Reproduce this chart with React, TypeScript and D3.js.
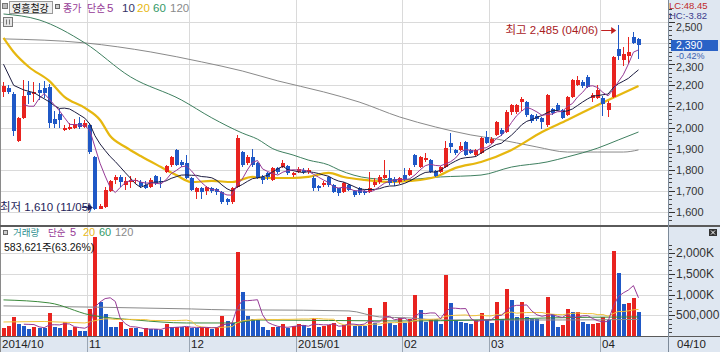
import * as d3 from 'd3';

// daily candles, 2014-10-08 .. 2015-04-10
const OPEN = [2170, 2185, 2160, 1935, 2045, 2170, 2160, 2180, 2185, 2190, 2040, 2065, 1990, 1995, 2000, 2020, 2005,
  2012, 1860, 1615, 1625, 1700, 1750, 1765, 1730, 1740, 1745, 1740, 1730, 1720, 1770, 1745, 1790, 1825, 1895, 1838, 1830,
  1760, 1695, 1715, 1700, 1712, 1710, 1695, 1660, 1645, 1720, 1885, 1830, 1860, 1830, 1765, 1785, 1750, 1810, 1815, 1820,
  1775, 1790, 1800, 1790, 1760, 1725, 1728, 1765, 1728, 1712, 1695, 1728, 1700, 1712, 1700, 1695, 1728, 1742, 1760, 1760,
  1755, 1742, 1775, 1775, 1870, 1815, 1848, 1846, 1795, 1790, 1815, 1925, 1895, 1895, 1930, 1895, 1870, 1880, 1955, 1925,
  1965, 1990, 1980, 2075, 2075, 2120, 2120, 2060, 2055, 2045, 2010, 2090, 2105, 2085, 2060, 2145, 2200, 2215, 2240, 2140,
  2140, 2140, 2085, 2145, 2370, 2320, 2340, 2430, 2420];
const HIGH = [2215, 2200, 2170, 2050, 2225, 2220, 2215, 2210, 2220, 2205, 2080, 2090, 2010, 2020, 2040, 2050, 2035,
  2020, 1865, 1640, 1720, 1750, 1775, 1775, 1765, 1770, 1760, 1750, 1745, 1760, 1775, 1765, 1825, 1865, 1900, 1845, 1870,
  1765, 1720, 1720, 1725, 1720, 1715, 1700, 1665, 1720, 1965, 1890, 1870, 1900, 1835, 1775, 1790, 1815, 1815, 1845, 1825,
  1790, 1815, 1810, 1810, 1770, 1730, 1745, 1770, 1735, 1715, 1740, 1735, 1705, 1718, 1705, 1790, 1760, 1775, 1845, 1800,
  1765, 1765, 1810, 1810, 1875, 1865, 1880, 1850, 1800, 1820, 1935, 1975, 1900, 1930, 1935, 1900, 1900, 1955, 1985, 1955,
  2030, 2000, 2085, 2110, 2110, 2145, 2125, 2065, 2065, 2050, 2160, 2095, 2115, 2090, 2150, 2230, 2245, 2225, 2250, 2165,
  2200, 2150, 2125, 2340, 2485, 2380, 2430, 2455, 2425];
const LOW = [2145, 2160, 1960, 1930, 2040, 2110, 2120, 2130, 2140, 2000, 2000, 2000, 1985, 1990, 1995, 1995, 2000,
  1875, 1610, 1615, 1620, 1695, 1735, 1720, 1705, 1715, 1735, 1715, 1710, 1715, 1730, 1715, 1785, 1815, 1820, 1815, 1755,
  1700, 1660, 1660, 1680, 1690, 1680, 1640, 1635, 1640, 1715, 1815, 1825, 1815, 1755, 1735, 1750, 1745, 1780, 1810, 1775,
  1765, 1785, 1780, 1780, 1700, 1700, 1720, 1720, 1690, 1675, 1690, 1700, 1670, 1680, 1680, 1690, 1720, 1735, 1755, 1730,
  1725, 1735, 1745, 1770, 1815, 1810, 1835, 1785, 1765, 1785, 1810, 1880, 1870, 1890, 1865, 1875, 1865, 1875, 1920, 1920,
  1960, 1960, 1975, 2060, 2065, 2080, 2050, 2020, 2030, 1995, 2005, 2060, 2080, 2040, 2055, 2140, 2195, 2185, 2185, 2120,
  2135, 2055, 2050, 2140, 2320, 2290, 2300, 2395, 2325];
const CLOSE = [2195, 2170, 1985, 2045, 2150, 2155, 2170, 2165, 2165, 2020, 2015, 2035, 2000, 2005, 2015, 2005, 2020,
  1885, 1615, 1630, 1705, 1745, 1765, 1740, 1745, 1750, 1752, 1722, 1715, 1752, 1737, 1740, 1820, 1860, 1825, 1825, 1760,
  1705, 1712, 1695, 1718, 1700, 1695, 1645, 1645, 1715, 1950, 1825, 1860, 1825, 1760, 1750, 1765, 1810, 1790, 1830, 1785,
  1785, 1805, 1790, 1800, 1715, 1715, 1738, 1730, 1695, 1690, 1737, 1705, 1680, 1690, 1688, 1712, 1742, 1765, 1775, 1737,
  1740, 1760, 1752, 1800, 1825, 1860, 1858, 1790, 1770, 1815, 1905, 1910, 1880, 1915, 1870, 1880, 1895, 1950, 1925, 1945,
  2025, 1970, 2075, 2105, 2105, 2135, 2060, 2030, 2040, 2025, 2155, 2070, 2085, 2045, 2145, 2225, 2225, 2195, 2190, 2155,
  2180, 2110, 2115, 2335, 2340, 2350, 2360, 2400, 2390];
// volume, thousand shares
const VOLUME = [190, 240, 460, 290, 240, 170, 215, 190, 185, 555, 215, 190, 340, 145, 215, 120, 115,
  650, 2390, 820, 530, 215, 210, 340, 170, 190, 185, 100, 190, 180, 175, 150, 290, 215, 220, 210, 220,
  195, 190, 215, 220, 170, 215, 485, 360, 320, 2030, 1060, 485, 410, 385, 215, 145, 215, 207, 290, 195,
  240, 290, 265, 190, 435, 215, 240, 265, 315, 145, 265, 460, 240, 235, 230, 675, 315, 240, 820, 315,
  265, 435, 315, 410, 990, 630, 340, 410, 400, 290, 1470, 800, 385, 340, 310, 290, 385, 555, 385, 315,
  820, 410, 1135, 870, 460, 820, 460, 410, 400, 290, 940, 530, 215, 265, 650, 580, 590, 340, 290, 300,
  315, 460, 385, 2055, 1520, 775, 800, 922.6, 583.621];

// month boundaries (candle index) and their axis labels
const MONTH_START = [0, 17, 37, 58, 79, 96, 118];
const MONTH_LABEL = ['2014/10', '11', '12', '2015/01', '02', '03', '04'];

// longer averages need history before the first candle, so they are read as [index, value]
const MA10_HEAD: [number, number][] = [[0, 2300], [2, 2200], [4, 2178], [6, 2165]];
const MA20: [number, number][] = [[0, 2425], [2, 2358], [5, 2287], [9, 2221], [12, 2145], [16, 2093], [19, 2036],
  [21, 1960], [24, 1908], [27, 1865], [31, 1813], [34, 1775], [37, 1742], [41, 1747], [45, 1742], [49, 1766],
  [52, 1761], [57, 1761], [60, 1766], [64, 1785], [67, 1766], [71, 1752], [76, 1742], [80, 1747], [85, 1766],
  [89, 1809], [94, 1837], [100, 1894], [106, 1979], [111, 2036], [117, 2107], [125, 2197]];
const MA60: [number, number][] = [[0, 2538], [7, 2510], [16, 2401], [25, 2240], [35, 2131], [41, 2046], [47, 1974],
  [50, 1945], [53, 1900], [57, 1870], [60, 1846], [64, 1823], [66, 1800], [72, 1760], [78, 1752], [86, 1766],
  [94, 1775], [100, 1813], [107, 1837], [111, 1861], [117, 1903], [121, 1941], [125, 1979]];
const MA120: [number, number][] = [[0, 2420], [16, 2401], [29, 2358], [39, 2311], [47, 2268], [54, 2221], [63, 2169],
  [70, 2121], [78, 2050], [85, 2003], [92, 1965], [97, 1946], [105, 1908], [111, 1884], [117, 1884], [122, 1884],
  [125, 1894]];
const VOL_MA20_HEAD: [number, number][] = [[0, 338], [8, 350], [16, 314]];
const VOL_MA60: [number, number][] = [[0, 870], [9, 797], [17, 507], [26, 386], [36, 314], [45, 314], [50, 386],
  [78, 362], [94, 386], [107, 435], [125, 460]];
const VOL_MA120: [number, number][] = [[0, 725], [37, 652], [45, 628], [50, 628], [68, 604], [74, 460], [80, 435],
  [86, 386], [94, 386], [110, 386], [125, 400]];

const PRICE_TICKS = [1600, 1700, 1800, 1900, 2000, 2100, 2200, 2300, 2400, 2500];
const VOL_TICKS = [500, 1000, 1500, 2000];
const VOL_TICK_LABELS = ['500,000', '1,000K', '1,500K', '2,000K'];

const UP = '#e8231f';
const DOWN = '#1f58c6';
const C_MA5 = '#963a96';
const C_MA10 = '#1c1c40';
const C_MA20 = '#e6b70f';
const C_MA60 = '#3f8060';
const C_MA120 = '#8a8a8a';
const PANEL_BG = '#dfe7f1';
const GRID = '#dadada';

const F_NUM = "'Liberation Sans', 'Noto Sans CJK KR', sans-serif";
const F_NARROW = "'Liberation Sans Narrow', 'Liberation Sans', 'Noto Sans CJK KR', sans-serif";
const F_KR = "'Noto Sans CJK KR', sans-serif";

const W = 720;
const H = 352;
const PLOT_R = 668;

function sma(values: number[], n: number): [number, number][] {
  const out: [number, number][] = [];
  for (let i = n - 1; i < values.length; i++) {
    out.push([i, d3.mean(values.slice(i - n + 1, i + 1)) as number]);
  }
  return out;
}

export default function App() {
  const n = CLOSE.length;
  const x = d3.scaleBand<number>()
    .domain(d3.range(n + 6))
    .range([1.5, 1.5 + (n + 6) * 5.08])
    .paddingInner(0.2)
    .paddingOuter(0.1);
  const left = (i: number) => Math.round(x(i) as number);
  const cx = (i: number) => (x(0) as number) + 1.5 + i * x.step();

  const yP = d3.scaleLinear().domain([1600, 2500]).range([212, 22]);
  const yV = d3.scaleLinear().domain([0, 2000]).range([336, 253]);

  const priceLine = d3.line<[number, number]>().x((d) => cx(d[0])).y((d) => yP(d[1]));
  const smoothPrice = d3.line<[number, number]>().x((d) => cx(d[0])).y((d) => yP(d[1])).curve(d3.curveMonotoneX);
  const volLine = d3.line<[number, number]>().x((d) => cx(d[0])).y((d) => yV(d[1]));
  const smoothVol = d3.line<[number, number]>().x((d) => cx(d[0])).y((d) => yV(d[1])).curve(d3.curveMonotoneX);

  const ma5 = sma(CLOSE, 5);
  const ma10 = [...MA10_HEAD, ...sma(CLOSE, 10)];
  const vma5 = sma(VOLUME, 5);
  const vma20 = [...VOL_MA20_HEAD, ...sma(VOLUME, 20)];

  const hiIdx = d3.maxIndex(HIGH);
  const loIdx = d3.minIndex(LOW);
  const last = n - 1;
  const chg = ((CLOSE[last] - CLOSE[last - 1]) / CLOSE[last - 1]) * 100;
  const lc = ((CLOSE[last] - LOW[loIdx]) / LOW[loIdx]) * 100;
  const hc = ((CLOSE[last] - HIGH[hiIdx]) / HIGH[hiIdx]) * 100;
  const fmt = d3.format(',');
  const lastVol = Math.round(VOLUME[last] * 1000);
  const volPct = (VOLUME[last] / VOLUME[last - 1]) * 100;
  const yLast = yP(CLOSE[last]);

  const minorP = d3.range(1520, 2580, 20).filter((v) => yP(v) > 1 && yP(v) < 224);
  const minorV = d3.range(100, 2300, 100).filter((v) => yV(v) > 229);
  // the current-price box hides the tick label it sits on
  const shownTicks = PRICE_TICKS.filter((t) => Math.abs(yP(t) - yLast) > 8);
  // labels nudged down where the LC/HC lines and the change figure crowd them
  const labelShift = (t: number) => (t === 2500 ? 5 : t === 2300 ? 3 : 0);

  const hiX = cx(hiIdx) - 3;
  const hiY = 30;
  const loX = cx(loIdx) - 3;
  const loY = yP(LOW[loIdx]) - 3;

  return (
    <svg width={W} height={H} style={{ position: 'fixed', left: 0, top: 0, background: '#fff' }}>
      <defs>
        <clipPath id="pclip"><rect x={0} y={0} width={PLOT_R} height={225} /></clipPath>
        <clipPath id="vclip"><rect x={0} y={227} width={PLOT_R} height={109} /></clipPath>
      </defs>

      {/* right axis panel and bottom band */}
      <rect x={PLOT_R} y={0} width={W - PLOT_R} height={H} fill={PANEL_BG} />
      <rect x={0} y={337} width={W} height={15} fill={PANEL_BG} />

      {/* grids */}
      {PRICE_TICKS.map((t) => (
        <line key={'pg' + t} x1={0} x2={PLOT_R} y1={Math.round(yP(t)) + 0.5} y2={Math.round(yP(t)) + 0.5} stroke={GRID} />
      ))}
      {VOL_TICKS.map((t) => (
        <line key={'vg' + t} x1={0} x2={PLOT_R} y1={Math.round(yV(t)) + 0.5} y2={Math.round(yV(t)) + 0.5} stroke={GRID} />
      ))}
      {MONTH_START.slice(1).map((i) => (
        <g key={'mg' + i}>
          <line x1={left(i) - 0.5} x2={left(i) - 0.5} y1={0} y2={336} stroke={GRID} />
          <line x1={left(i) - 0.5} x2={left(i) - 0.5} y1={337} y2={352} stroke="#9aa6b4" />
        </g>
      ))}

      {/* price panel */}
      <g clipPath="url(#pclip)">
        <path d={smoothPrice(MA120) as string} fill="none" stroke={C_MA120} strokeWidth={1} />
        <path d={smoothPrice(MA60) as string} fill="none" stroke={C_MA60} strokeWidth={1} />
        <path d={smoothPrice(MA20) as string} fill="none" stroke={C_MA20} strokeWidth={2.2} />
        {CLOSE.map((c, i) => {
          const o = OPEN[i];
          const col = c >= o ? UP : DOWN;
          const lx = left(i);
          const top = Math.round(yP(Math.max(o, c)));
          const h = Math.max(1, Math.round(yP(Math.min(o, c))) - top);
          return (
            <g key={'c' + i}>
              <line x1={lx + 1.5} x2={lx + 1.5} y1={Math.round(yP(HIGH[i]))} y2={Math.round(yP(LOW[i]))} stroke={col} />
              <rect x={lx} y={top} width={4} height={h} fill={col} />
            </g>
          );
        })}
        <path d={priceLine(ma10) as string} fill="none" stroke={C_MA10} strokeWidth={1} />
        <path d={priceLine(ma5) as string} fill="none" stroke={C_MA5} strokeWidth={1} />
      </g>

      {/* volume panel */}
      <g clipPath="url(#vclip)">
        {VOLUME.map((v, i) => {
          const col = i === 0 || v >= VOLUME[i - 1] ? UP : DOWN;
          const top = Math.round(yV(v));
          return <rect key={'v' + i} x={left(i)} y={top} width={4} height={336 - top} fill={col} />;
        })}
        <path d={smoothVol(VOL_MA120) as string} fill="none" stroke={C_MA120} strokeWidth={1} />
        <path d={smoothVol(VOL_MA60) as string} fill="none" stroke="#3c8a3c" strokeWidth={1} />
        <path d={volLine(vma20) as string} fill="none" stroke="#f0c23a" strokeWidth={1} />
        <path d={volLine(vma5) as string} fill="none" stroke={C_MA5} strokeWidth={1} />
      </g>

      {/* frame lines */}
      <line x1={0.5} x2={0.5} y1={0} y2={352} stroke="#8a8a8a" />
      <line x1={0} x2={W} y1={226} y2={226} stroke="#5a5a5a" strokeWidth={2} />
      <line x1={0} x2={W} y1={336.5} y2={336.5} stroke="#5a5a5a" />
      <line x1={PLOT_R + 0.5} x2={PLOT_R + 0.5} y1={0} y2={352} stroke="#7d8a99" />

      {/* price axis */}
      {minorP.map((t) => (
        <line key={'pm' + t} x1={669} x2={672} y1={Math.round(yP(t)) + 0.5} y2={Math.round(yP(t)) + 0.5} stroke="#444" />
      ))}
      {PRICE_TICKS.map((t) => (
        <line key={'pt' + t} x1={669} x2={675} y1={Math.round(yP(t)) + 0.5} y2={Math.round(yP(t)) + 0.5} stroke="#333" />
      ))}
      {shownTicks.map((t) => (
        <text key={'pl' + t} x={676} y={yP(t) + labelShift(t)} dominantBaseline="central" fontFamily={F_NUM}
          fontSize={t === 2500 ? 10.5 : 11} fill="#333">{fmt(t)}</text>
      ))}
      {/* volume axis */}
      {minorV.map((t) => (
        <line key={'vm' + t} x1={669} x2={672} y1={Math.round(yV(t)) + 0.5} y2={Math.round(yV(t)) + 0.5} stroke="#444" />
      ))}
      {VOL_TICKS.map((t, k) => (
        <g key={'vt' + t}>
          <line x1={669} x2={675} y1={Math.round(yV(t)) + 0.5} y2={Math.round(yV(t)) + 0.5} stroke="#333" />
          <text x={676} y={yV(t)} dominantBaseline="central" fontFamily={F_NARROW} fontSize={12} fill="#333">{VOL_TICK_LABELS[k]}</text>
        </g>
      ))}

      {/* LC / HC and current price */}
      <text x={669} y={5} dominantBaseline="central" fontFamily={F_NARROW} fontSize={9.5} fill="#c02a2a">{'LC:' + lc.toFixed(2)}</text>
      <text x={669} y={15.5} dominantBaseline="central" fontFamily={F_NARROW} fontSize={9.5} fill="#3a3a8c">{'HC:' + hc.toFixed(2)}</text>
      <rect x={671} y={Math.round(yLast) - 5} width={47} height={11} fill="#2a62c6" />
      <text x={676} y={yLast} dominantBaseline="central" fontFamily={F_NUM} fontSize={10.5} fill="#fff">{fmt(CLOSE[last])}</text>
      <text x={676} y={yLast + 10.5} dominantBaseline="central" fontFamily={F_NUM} fontSize={9} fill="#3b5fb0">{chg.toFixed(2) + '%'}</text>
      <rect x={709} y={229} width={8} height={7} fill="#333" />
      <path d="M711,230.5 L715,234.5 M715,230.5 L711,234.5" stroke="#fff" strokeWidth={1} />

      {/* month labels */}
      {MONTH_START.map((i, k) => (
        <text key={'ml' + i} x={k === 0 ? 2 : left(i) + 1} y={348} fontFamily={F_NARROW} fontSize={11.5} fill="#222">{MONTH_LABEL[k]}</text>
      ))}
      <text x={677} y={348} fontFamily={F_NARROW} fontSize={11.5} fill="#222">04/10</text>

      {/* price header */}
      <rect x={2.5} y={3.5} width={5} height={5} fill="#bbb" stroke="#777" />
      <rect x={9.5} y={1.5} width={43} height={12} fill="#f0f0f0" stroke="#9a9a9a" />
      <text x={12} y={11.5} fontFamily={F_KR} fontSize={10} fill="#111">영흥철강</text>
      <rect x={55.5} y={4.5} width={4} height={4} fill="#ccc" stroke="#666" />
      <text x={63} y={11.5} fontFamily={F_KR} fontSize={10} fill={C_MA5}>종가</text>
      <text x={87} y={11.5} fontFamily={F_KR} fontSize={10} fill={C_MA5}>단순</text>
      <text x={107} y={11.5} fontFamily={F_NARROW} fontSize={11.5} fill={C_MA5}>5</text>
      <text x={122} y={11.5} fontFamily={F_NARROW} fontSize={11.5} fill="#333366">10</text>
      <text x={137} y={11.5} fontFamily={F_NARROW} fontSize={11.5} fill={C_MA20}>20</text>
      <text x={153} y={11.5} fontFamily={F_NARROW} fontSize={11.5} fill="#339966">60</text>
      <text x={170} y={11.5} fontFamily={F_NARROW} fontSize={11.5} fill={C_MA120}>120</text>
      <rect x={3.5} y={17.5} width={9} height={9} fill="#e4e4e4" stroke="#777" />
      <path d="M6.5,19.5 V24.5 M9.5,19.5 V24.5" stroke="#777" />

      {/* volume header */}
      <rect x={3.5} y={230.5} width={4} height={4} fill="#ccc" stroke="#666" />
      <text x={13} y={236} fontFamily={F_KR} fontSize={9.5} fill="#2e9090">거래량</text>
      <text x={48} y={236} fontFamily={F_KR} fontSize={9.5} fill={C_MA5}>단순</text>
      <text x={70} y={236} fontFamily={F_NARROW} fontSize={11} fill={C_MA5}>5</text>
      <text x={83} y={236} fontFamily={F_NARROW} fontSize={11} fill="#e8b820">20</text>
      <text x={99} y={236} fontFamily={F_NARROW} fontSize={11} fill="#339966">60</text>
      <text x={115} y={236} fontFamily={F_NARROW} fontSize={11} fill={C_MA120}>120</text>
      <text x={4} y={250.5} fontFamily={F_NARROW} fontSize={10.5} fill="#111">
        {fmt(lastVol) + '주(' + volPct.toFixed(2) + '%)'}
      </text>

      {/* high / low annotations */}
      <text x={hiX - 17} y={hiY} textAnchor="end" dominantBaseline="central" fontFamily={F_NARROW} fontSize={11.5} fill="#a8201e">
        {'최고 ' + fmt(HIGH[hiIdx]) + ' (04/06)'}
      </text>
      <line x1={hiX - 14} x2={hiX - 3} y1={hiY + 0.5} y2={hiY + 0.5} stroke="#c02020" />
      <path d={`M${hiX - 4},${hiY - 3} L${hiX + 1},${hiY + 0.5} L${hiX - 4},${hiY + 4} Z`} fill="#c02020" />

      <text x={0} y={loY} dominantBaseline="central" fontFamily={F_NARROW} fontSize={11.5} fill="#1e1e5a">
        {'최저 ' + fmt(LOW[loIdx]) + ' (11/05)'}
      </text>
      <line x1={loX - 10} x2={loX - 3} y1={loY + 0.5} y2={loY + 0.5} stroke="#1e1e5a" />
      <path d={`M${loX - 4},${loY - 3} L${loX + 1},${loY + 0.5} L${loX - 4},${loY + 4} Z`} fill="#1e1e5a" />
    </svg>
  );
}
